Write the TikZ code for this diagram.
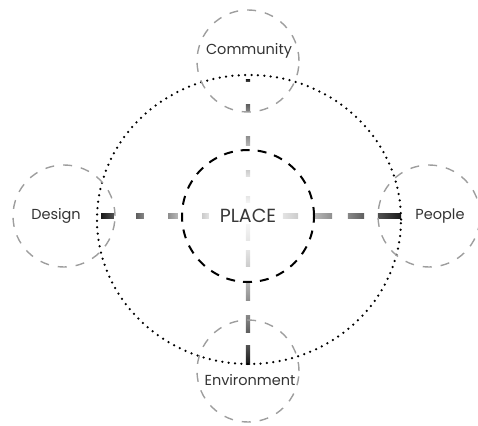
\documentclass[tikz,border=0pt]{standalone}
\usepackage{fontspec}
\setmainfont{Poppins}
\usetikzlibrary{shapes.geometric,calc,backgrounds}

\tikzset{
  ring/.style={draw, ellipse, line width=2.5pt, line cap=round, dash pattern=on 0pt off 6.4pt, minimum width=304pt, minimum height=289pt, inner sep=0pt},
  hub/.style={draw, circle, line width=2pt, dash pattern=on 9pt off 8pt, minimum size=132pt, inner sep=0pt, text=black!78, font=\fontsize{19}{22}\selectfont},
  topic/.style={draw=black!38, circle, line width=1.4pt, dash pattern=on 9pt off 9pt, minimum size=102pt, inner sep=0pt},
  lbl/.style={inner sep=0.75pt, text=black!80, font=\fontsize{14.5}{17}\selectfont},
}

\begin{document}
\begin{tikzpicture}[x=1pt,y=1pt,yscale=-1,xscale=1]
\useasboundingbox (0,0) rectangle (478,425);

%Shape: Ellipse (dotted ring)
\node [ring] (ring) at (249,219.5) {};
%Shape: Circle (centre)
\node [hub] (place) at (248,216) {PLACE};

%Shape: Circles (topics)
\node [topic] (commC) at (248,61) {};
\node [topic] (desC) at (64,216) {};
\node [topic] (peoC) at (429,216) {};
\node [topic] (envC) at (248,371) {};

% Text Node
\draw (249,51) node [lbl] (community) {Community};
% Text Node
\draw (56,216) node [lbl] (design) {Design};
% Text Node
\draw (440,216) node [lbl] (people) {People};
% Text Node
\draw (250,380) node [lbl] (environment) {Environment};

%Spokes: shaded dashes, dark at the ring, fading to the centre
\begin{pgfonlayer}{background}
\foreach \tgt/\ang/\endd in {commC/0/139, envC/180/146, desC/90/149, peoC/270/151}{
  \foreach \a/\b/\co/\ci in {37/48/black!20/black!11, 68/82/black!44/black!28, 102/114/black!63/black!47, 132/\endd/black!90/black!68}{
    \shade [top color=\co, bottom color=\ci, shading angle=\ang] ($(place.center)!\a pt!(\tgt.center)+(-2.2,-2.2)$) rectangle ($(place.center)!\b pt!(\tgt.center)+(2.2,2.2)$);
  }
}
\foreach \tgt/\ang in {commC/0, envC/180}{
  \shade [top color=black!10, bottom color=black!4, shading angle=\ang] ($(place.center)!11pt!(\tgt.center)+(-2.2,-2.2)$) rectangle ($(place.center)!22pt!(\tgt.center)+(2.2,2.2)$);
}
\end{pgfonlayer}

\end{tikzpicture}
\end{document}
